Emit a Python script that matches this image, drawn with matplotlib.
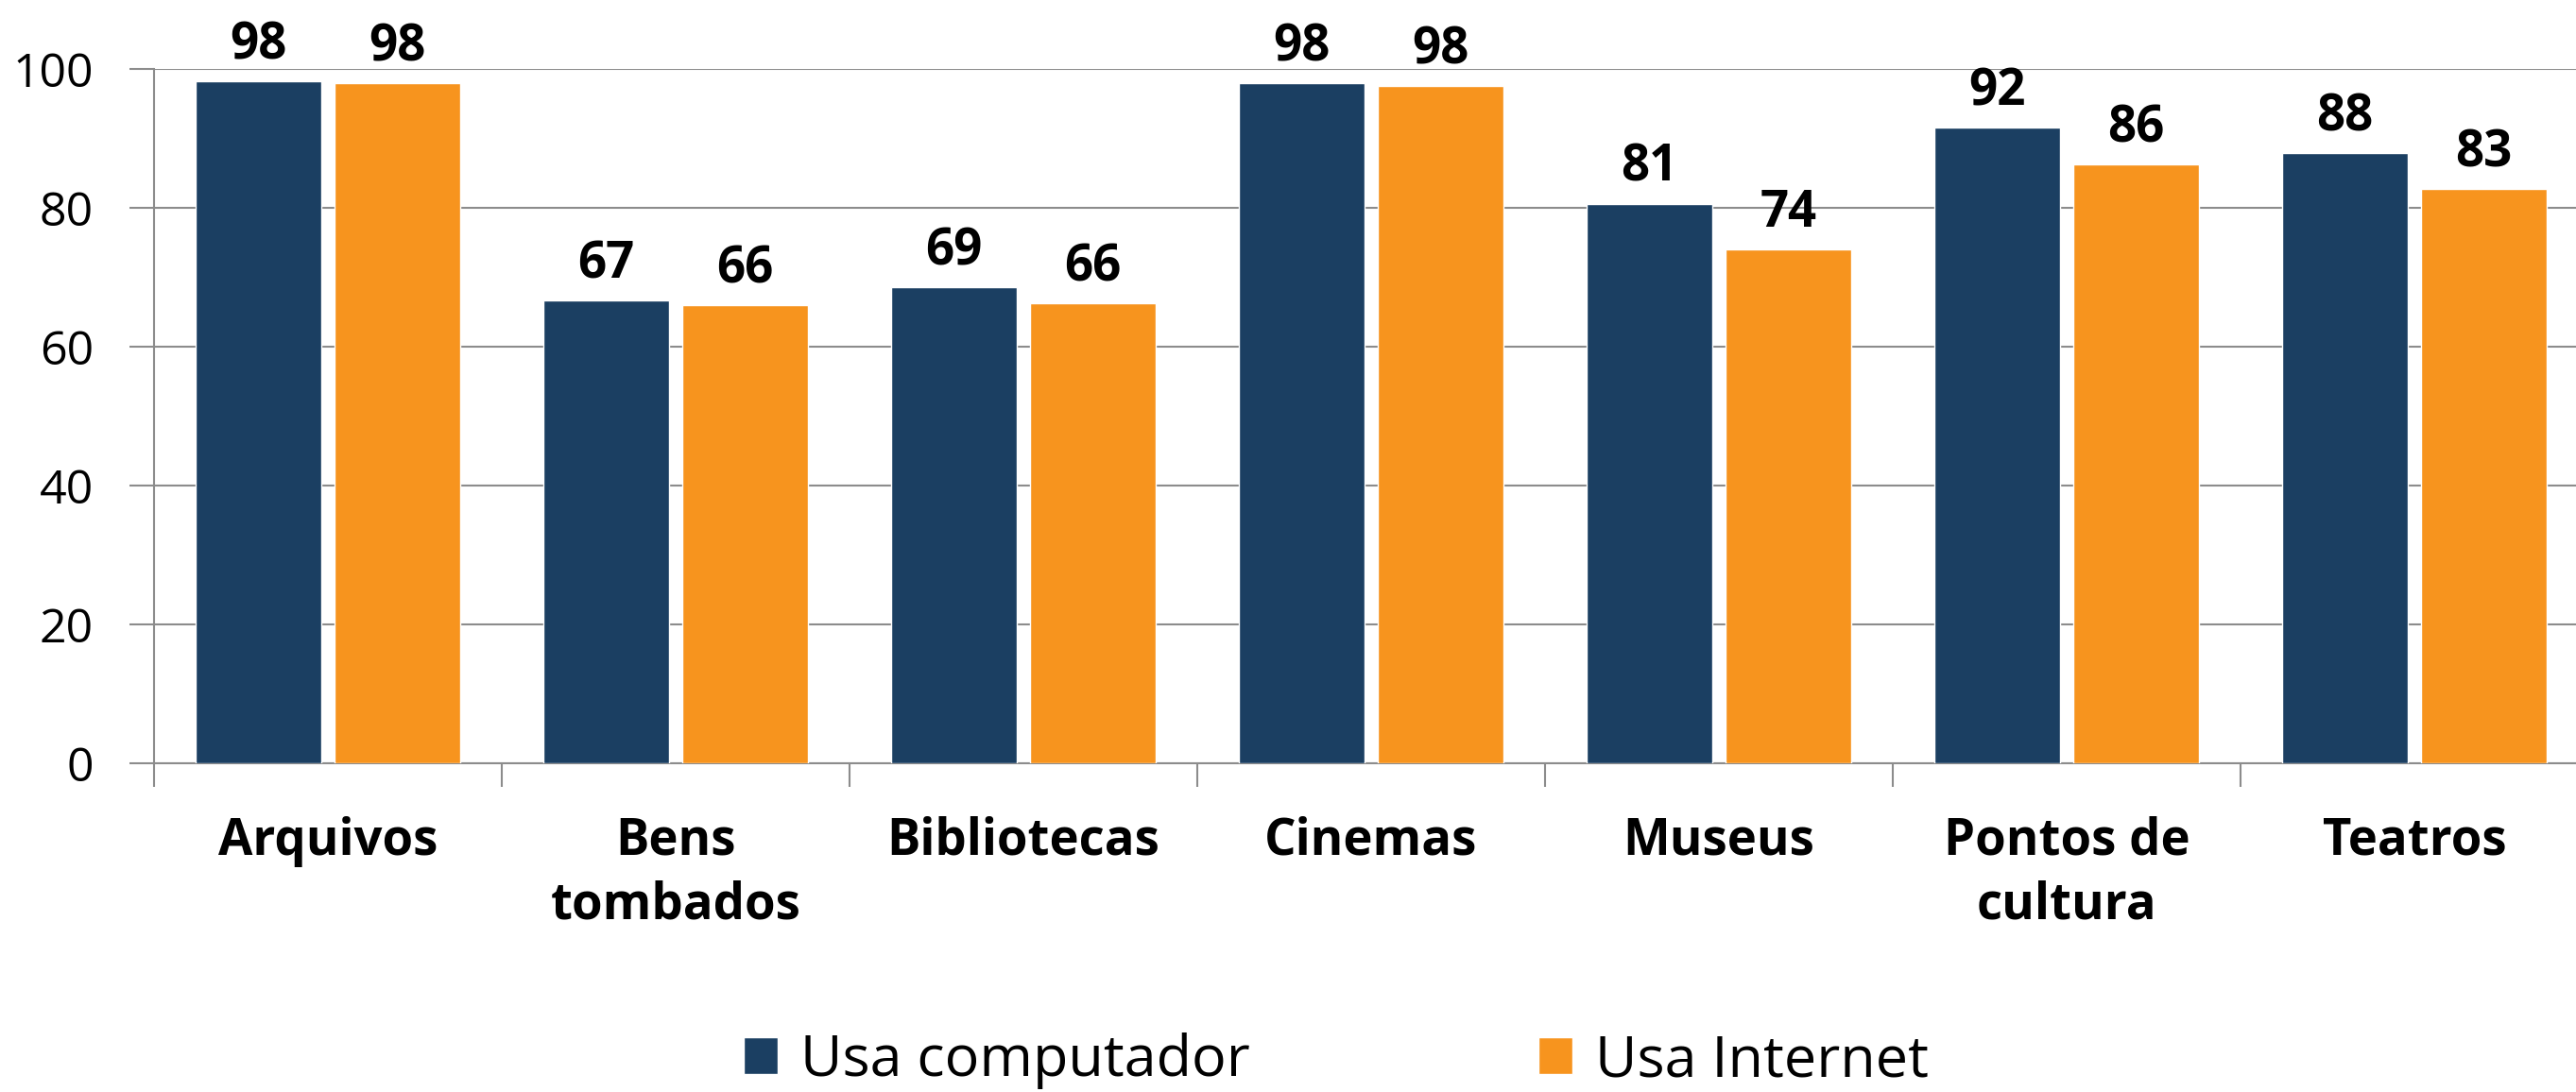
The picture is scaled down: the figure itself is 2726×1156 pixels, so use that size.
import matplotlib
matplotlib.use("Agg")
import matplotlib.pyplot as plt
import numpy as np

categories = ["Arquivos", "Bens\ntombados", "Bibliotecas", "Cinemas", "Museus", "Pontos de\ncultura", "Teatros"]
usa_computador = [98.2, 66.6, 68.6, 97.9, 80.6, 91.5, 87.9]
usa_internet = [97.9, 66.0, 66.2, 97.6, 74.0, 86.3, 82.7]
labels_computador = ["98", "67", "69", "98", "81", "92", "88"]
labels_internet = ["98", "66", "66", "98", "74", "86", "83"]
series_names = ["Usa computador", "Usa Internet"]
yticks = [0, 20, 40, 60, 80, 100]

BLUE = "#1B3F62"
ORANGE = "#F7941E"
GRAY = "#8C8C8C"

plt.rcParams["font.family"] = ["Open Sans", "DejaVu Sans"]

fig = plt.figure(figsize=(27.26, 11.56), dpi=100)
ax = fig.add_axes([163 / 2726, 1 - 808 / 1156, (2739 - 163) / 2726, (808 - 73) / 1156])

x = np.arange(len(categories))
w = 0.36
b1 = ax.bar(x - 0.2, usa_computador, w, color=BLUE, edgecolor="white", linewidth=1.0, zorder=3, label=series_names[0])
b2 = ax.bar(x + 0.2, usa_internet, w, color=ORANGE, edgecolor="white", linewidth=1.0, zorder=3, label=series_names[1])

for bars, labs in ((b1, labels_computador), (b2, labels_internet)):
    for r, lab in zip(bars, labs):
        ax.annotate(lab, (r.get_x() + r.get_width() / 2, r.get_height()),
                    xytext=(0, 17), textcoords="offset points",
                    ha="center", va="baseline", fontsize=38, fontweight="bold",
                    color="black", annotation_clip=False, zorder=5)

ax.set_xlim(-0.5, len(categories) - 0.5)
ax.set_ylim(0, 100)
ax.set_yticks(yticks)
ax.set_yticklabels([str(t) for t in yticks])
ax.yaxis.grid(True, color=GRAY, linewidth=1.5, zorder=0)
ax.set_axisbelow(True)

ax.set_xticks(x)
ax.set_xticklabels(categories, fontsize=38, fontweight="bold", linespacing=1.33)
ax.set_xticks(np.arange(len(categories) + 1) - 0.5, minor=True)
ax.tick_params(axis="x", which="major", length=0, pad=40)
ax.tick_params(axis="x", which="minor", length=18, width=1.5, color=GRAY)
ax.tick_params(axis="y", which="major", length=19, width=1.5, color=GRAY, labelsize=36, pad=27)

for s in ("top", "right"):
    ax.spines[s].set_visible(False)
for s in ("left", "bottom"):
    ax.spines[s].set_color(GRAY)
    ax.spines[s].set_linewidth(1.5)

leg = fig.legend(handles=[b1, b2], labels=series_names, loc="center",
                 bbox_to_anchor=(1414 / 2726, 1 - 1123 / 1156), ncol=2, frameon=False,
                 fontsize=44, handlelength=0.59, handleheight=0.6, handletextpad=0.39,
                 columnspacing=5.0)

fig.savefig("out.png", dpi=100)
